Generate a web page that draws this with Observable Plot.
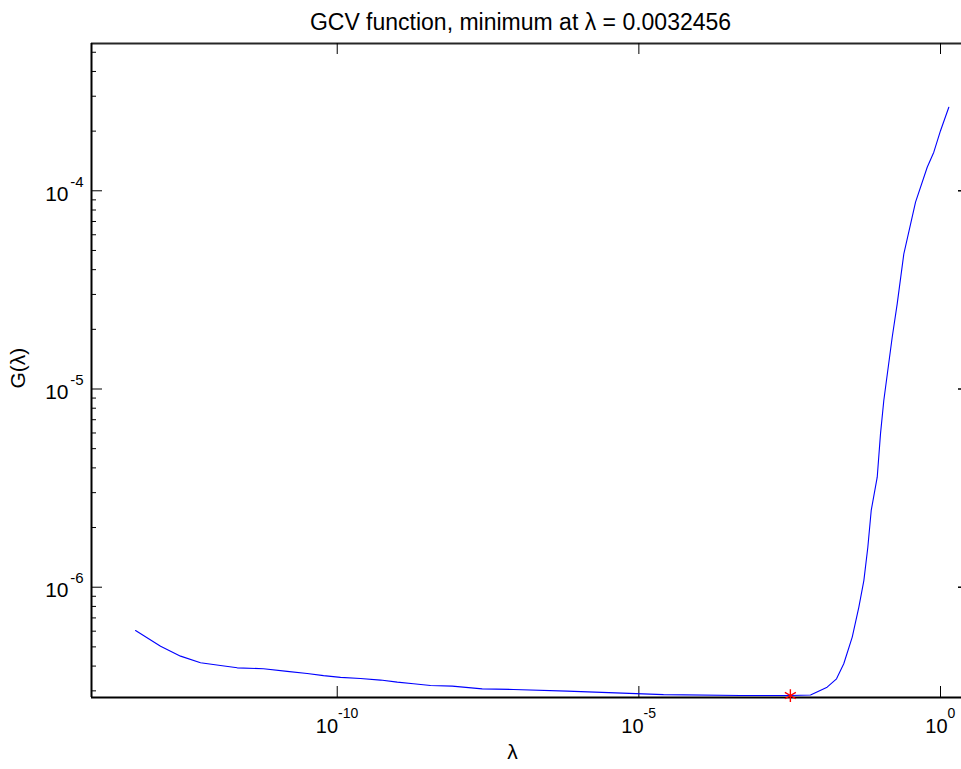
<!DOCTYPE html>
<html>
<head>
<meta charset="utf-8">
<script src="https://cdn.jsdelivr.net/npm/d3@7"></script>
<script src="https://cdn.jsdelivr.net/npm/@observablehq/plot@0.6"></script>
<style>
  html, body { margin: 0; padding: 0; background: #fff; overflow: hidden; }
  #chart svg { display: block; }
</style>
</head>
<body>
<div id="chart"></div>
<script>
// ---- data ----
const lambda = [4.54e-14, 1.18e-13, 2.53e-13, 5.42e-13, 1.16e-12, 2.20e-12, 6.00e-12, 1.48e-11,
  3.18e-11, 5.93e-11, 1.135e-10, 2.43e-10, 5.22e-10, 9.89e-10, 1.84e-9, 3.52e-9, 8.05e-9,
  2.53e-8, 8.36e-8, 6.49e-7, 4.10e-6, 2.56e-5, 4.84e-4, 3.27e-3, 7.0e-3, 1.32e-2, 1.89e-2,
  2.49e-2, 3.44e-2, 4.43e-2, 5.36e-2, 6.24e-2, 7.10e-2, 8.93e-2, 0.1012, 0.1148, 0.158,
  0.1914, 0.2466, 0.3855, 0.602, 0.774, 1.0, 1.373];
const G = [6.05e-7, 5.04e-7, 4.49e-7, 4.16e-7, 4.03e-7, 3.92e-7, 3.88e-7, 3.76e-7,
  3.67e-7, 3.58e-7, 3.51e-7, 3.46e-7, 3.40e-7, 3.32e-7, 3.26e-7, 3.19e-7, 3.17e-7,
  3.07e-7, 3.05e-7, 2.99e-7, 2.93e-7, 2.87e-7, 2.84e-7, 2.84e-7, 2.86e-7, 3.13e-7, 3.45e-7,
  4.11e-7, 5.60e-7, 7.93e-7, 1.08e-6, 1.59e-6, 2.44e-6, 3.59e-6, 5.94e-6, 8.75e-6, 1.82e-5,
  2.69e-5, 4.81e-5, 8.76e-5, 1.315e-4, 1.566e-4, 2.01e-4, 2.64e-4];
const minLambda = [0.0032456];
const minG = [2.84e-7];

const xLim = [8.45e-15, 2.91];
const yLim = [2.777e-7, 5.535e-4];

const xTickExps = [-10, -5, 0];
const yTickExps = [-4, -5, -6];
const yMinorTicks = [3e-7, 4e-7, 5e-7, 6e-7, 7e-7, 8e-7, 9e-7,
  2e-6, 3e-6, 4e-6, 5e-6, 6e-6, 7e-6, 8e-6, 9e-6,
  2e-5, 3e-5, 4e-5, 5e-5, 6e-5, 7e-5, 8e-5, 9e-5,
  2e-4, 3e-4, 4e-4, 5e-4];

const titleText = "GCV function, minimum at \u03bb = 0.0032456";
const xLabel = "\u03bb";
const yLabel = "G(\u03bb)";

// ---- build ----
const curve = lambda.map((l, i) => ({lambda: l, G: G[i]}));
const minPt = minLambda.map((l, i) => ({lambda: l, G: minG[i]}));

const W = 961, H = 769, mL = 91, mT = 43, mB = 72, mR = 0;
const frameW = W - mL - mR, frameH = H - mT - mB;
const font = "'Liberation Sans', Arial, Helvetica, sans-serif";

const xLabelMarks = xTickExps.flatMap(e => {
  const s = String(e);
  const shift = (22 - (s.startsWith("-") ? 4.7 + 7.8 * (s.length - 1) : 7.8 * s.length)) / 2;
  return [
    Plot.text([e], {x: d => 10 ** d, y: yLim[0], text: () => "10", textAnchor: "end",
      dx: shift, dy: 29, fontSize: 20, fill: "#000"}),
    Plot.text([e], {x: d => 10 ** d, y: yLim[0], text: d => String(d), textAnchor: "start",
      dx: shift, dy: 16, fontSize: 14, fill: "#000"})
  ];
});

const chart = Plot.plot({
  width: W, height: H,
  marginLeft: mL, marginTop: mT, marginBottom: mB, marginRight: mR,
  style: {fontFamily: font, background: "#fff", overflow: "hidden"},
  x: {type: "log", domain: xLim, range: [91, 968], axis: null},
  y: {type: "log", domain: yLim, axis: null},
  marks: [
    // axis box lines (top, bottom, left)
    Plot.ruleY([yLim[0]], {stroke: "#000", strokeWidth: 2}),
    Plot.ruleY([yLim[1]], {stroke: "#262626", strokeWidth: 2}),
    Plot.ruleX([xLim[0]], {stroke: "#000", strokeWidth: 2}),
    // y ticks left (major + minor), pointing inward
    Plot.tickY(yTickExps, {y: d => 10 ** d, stroke: "#000", insetRight: frameW - 11}),
    Plot.tickY(yMinorTicks, {y: d => d, stroke: "#000", insetRight: frameW - 5}),
    // y ticks right (major only visible part)
    Plot.tickY(yTickExps, {y: d => 10 ** d, stroke: "#000", strokeWidth: 1.5, insetLeft: frameW - 3}),
    // x ticks bottom and top
    Plot.tickX(xTickExps, {x: d => 10 ** d, stroke: "#000", insetTop: frameH - 11}),
    Plot.tickX(xTickExps, {x: d => 10 ** d, stroke: "#000", insetBottom: frameH - 11}),
    // data
    Plot.line(curve, {x: "lambda", y: "G", stroke: "#0000ff", strokeWidth: 1.1}),
    Plot.dot(minPt, {x: "lambda", y: "G", symbol: "asterisk", r: 6, stroke: "#ff0000", strokeWidth: 1.4}),
    // y tick labels
    Plot.text(yTickExps, {x: xLim[0], y: d => 10 ** d, text: () => "10", textAnchor: "end",
      dx: -23, dy: 3, fontSize: 21, fill: "#000"}),
    Plot.text(yTickExps, {x: xLim[0], y: d => 10 ** d, text: d => String(d), textAnchor: "end",
      dx: -8, dy: -9, fontSize: 15, fill: "#000"}),
    // x tick labels
    ...xLabelMarks,
    // title and axis labels
    Plot.text([titleText], {frameAnchor: "top", text: d => d, dx: -6, dy: -30, fontSize: 23, fill: "#000"}),
    Plot.text([xLabel], {frameAnchor: "bottom", text: d => d, dx: -14, dy: 61, fontSize: 21, fill: "#000"}),
    Plot.text([yLabel], {frameAnchor: "left", text: d => d, rotate: -90, dx: -73, dy: 18, fontSize: 21, fill: "#000"})
  ]
});
document.getElementById("chart").append(chart);
</script>
</body>
</html>
